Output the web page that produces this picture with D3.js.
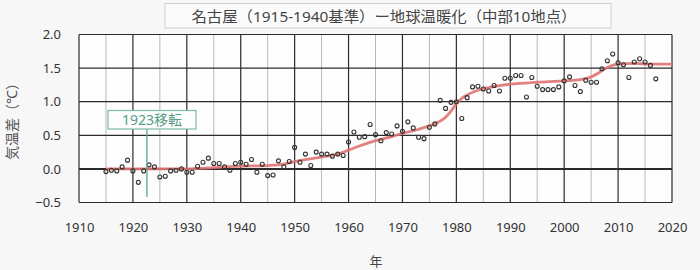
<!DOCTYPE html>
<html>
<head>
<meta charset="utf-8">
<script src="https://cdn.jsdelivr.net/npm/d3@7"></script>
<style>
  body { margin: 0; background: #f7f7f8; }
  svg { display: block; }
</style>
</head>
<body>
<svg id="chart" width="700" height="270"></svg>
<script>
// yearly anomaly (°C)
var years = d3.range(1915, 2018);
var anomalies = [
  -0.04, -0.02, -0.03, 0.03, 0.13, -0.03, -0.20, -0.03, 0.06, 0.03,   // 1915-1924
  -0.12, -0.11, -0.03, -0.02, 0.00, -0.05, -0.05, 0.04, 0.10, 0.16,   // 1925-1934
  0.08, 0.08, 0.03, -0.02, 0.08, 0.10, 0.07, 0.14, -0.05, 0.07,       // 1935-1944
  -0.10, -0.09, 0.12, 0.03, 0.11, 0.32, 0.10, 0.22, 0.05, 0.25,       // 1945-1954
  0.22, 0.22, 0.19, 0.22, 0.20, 0.40, 0.55, 0.47, 0.48, 0.66,         // 1955-1964
  0.51, 0.42, 0.54, 0.52, 0.64, 0.56, 0.70, 0.61, 0.47, 0.45,         // 1965-1974
  0.62, 0.67, 1.02, 0.90, 0.99, 1.00, 0.75, 1.06, 1.22, 1.23,         // 1975-1984
  1.19, 1.16, 1.24, 1.16, 1.35, 1.35, 1.39, 1.39, 1.07, 1.36,         // 1985-1994
  1.23, 1.18, 1.18, 1.18, 1.22, 1.31, 1.37, 1.24, 1.15, 1.32,         // 1995-2004
  1.29, 1.29, 1.49, 1.61, 1.71, 1.58, 1.55, 1.36, 1.59, 1.64,         // 2005-2014
  1.59, 1.54, 1.34                                                   // 2015-2017
];

// smoothed trend (red curve)
var trendYears  = [1915, 1920, 1925, 1930, 1935, 1940, 1945, 1948, 1950, 1953, 1956, 1958, 1960, 1962, 1965, 1968, 1970, 1973, 1975, 1977, 1978, 1979, 1980, 1981, 1982, 1984, 1986, 1990, 1995, 2000, 2003, 2005, 2007, 2008, 2010, 2013, 2016, 2020];
var trendValues = [0.00, 0.00, 0.00, 0.00, 0.02, 0.04, 0.05, 0.07, 0.11, 0.15, 0.19, 0.22, 0.28, 0.34, 0.42, 0.48, 0.53, 0.59, 0.64, 0.71, 0.77, 0.86, 0.97, 1.05, 1.10, 1.17, 1.21, 1.26, 1.29, 1.31, 1.33, 1.37, 1.46, 1.51, 1.56, 1.57, 1.56, 1.56];

var xTicks = d3.range(1910, 2021, 10);
var xMinor = d3.range(1915, 2020, 10);
var yTicks = [-0.5, 0, 0.5, 1.0, 1.5, 2.0];

var title = "名古屋（1915-1940基準）ー地球温暖化（中部10地点）";
var yTitle = "気温差（℃）";
var xTitle = "年";
var note = "1923移転";
var noteYear = 1922.6;

var svg = d3.select("#chart");
var plotL = 79, plotR = 672, plotT = 34.5, plotB = 202.5;

var x = d3.scaleLinear().domain([1910, 2020]).range([plotL, plotR]);
var y = d3.scaleLinear().domain([-0.5, 2]).range([plotB, plotT]);

var font = "'Noto Sans', 'Noto Sans CJK JP', sans-serif";

// plot background
svg.append("rect")
  .attr("x", plotL).attr("y", plotT)
  .attr("width", plotR - plotL).attr("height", plotB - plotT)
  .attr("fill", "#fdfdfd");

// minor verticals
svg.append("g").selectAll("line").data(xMinor).join("line")
  .attr("x1", function(d) { return x(d); }).attr("x2", function(d) { return x(d); })
  .attr("y1", plotT).attr("y2", plotB)
  .attr("stroke", "#b8b8b8").attr("stroke-width", 1);

// major verticals
svg.append("g").selectAll("line").data(xTicks).join("line")
  .attr("x1", function(d) { return x(d); }).attr("x2", function(d) { return x(d); })
  .attr("y1", plotT).attr("y2", plotB)
  .attr("stroke", "#2b2b2b").attr("stroke-width", 1.2);

// horizontals
svg.append("g").selectAll("line").data(yTicks).join("line")
  .attr("x1", plotL).attr("x2", plotR)
  .attr("y1", function(d) { return y(d); }).attr("y2", function(d) { return y(d); })
  .attr("stroke", "#2b2b2b")
  .attr("stroke-width", function(d) { return d === 0 ? 2 : 1.2; });

// axes labels via d3 axes, lines hidden
var xAxis = svg.append("g")
  .attr("transform", "translate(0," + plotB + ")")
  .call(d3.axisBottom(x).tickValues(xTicks).tickFormat(d3.format("d")).tickSize(0).tickPadding(20));
xAxis.select(".domain").remove();
xAxis.selectAll("text").attr("font-family", font).attr("font-size", 13).attr("fill", "#333");

var yAxis = svg.append("g")
  .attr("transform", "translate(" + plotL + ",0)")
  .call(d3.axisLeft(y).tickValues(yTicks).tickFormat(d3.format(".1f")).tickSize(0).tickPadding(18));
yAxis.select(".domain").remove();
yAxis.selectAll("text").attr("font-family", font).attr("font-size", 13).attr("fill", "#333");

// trend curve
var line = d3.line()
  .x(function(d, i) { return x(trendYears[i]); })
  .y(function(d) { return y(d); })
  .curve(d3.curveMonotoneX);

svg.append("path")
  .datum(trendValues)
  .attr("d", line)
  .attr("fill", "none")
  .attr("stroke", "#e07272")
  .attr("stroke-width", 2.8)
  .attr("opacity", 0.9);

// yearly points
svg.append("g").selectAll("circle").data(anomalies).join("circle")
  .attr("cx", function(d, i) { return x(years[i]); })
  .attr("cy", function(d) { return y(d); })
  .attr("r", 2)
  .attr("fill", "none")
  .attr("stroke", "#333")
  .attr("stroke-width", 1.1);

// relocation marker
svg.append("line")
  .attr("x1", x(noteYear)).attr("x2", x(noteYear))
  .attr("y1", 129).attr("y2", 197)
  .attr("stroke", "#5aa88c").attr("stroke-width", 1.3);

svg.append("rect")
  .attr("x", 108).attr("y", 110.5)
  .attr("width", 88).attr("height", 18.5)
  .attr("fill", "#fcfdfc")
  .attr("stroke", "#7cbca3").attr("stroke-width", 1.2);

svg.append("text")
  .attr("x", 152).attr("y", 125)
  .attr("text-anchor", "middle")
  .attr("font-family", font).attr("font-size", 14)
  .attr("fill", "#5a9c87")
  .text(note);

// title box
svg.append("rect")
  .attr("x", 165).attr("y", 3.5)
  .attr("width", 446).attr("height", 24.5)
  .attr("fill", "#fbfbfb")
  .attr("stroke", "#cfcfcf").attr("stroke-width", 1);

svg.append("text")
  .attr("x", 384).attr("y", 21.5)
  .attr("text-anchor", "middle")
  .attr("font-family", font).attr("font-size", 15)
  .attr("fill", "#444")
  .attr("textLength", 385).attr("lengthAdjust", "spacingAndGlyphs")
  .text(title);

// axis titles
svg.append("text")
  .attr("transform", "translate(17,118) rotate(-90)")
  .attr("text-anchor", "middle")
  .attr("font-family", font).attr("font-size", 14)
  .attr("fill", "#555")
  .text(yTitle);

svg.append("text")
  .attr("x", 376).attr("y", 266)
  .attr("text-anchor", "middle")
  .attr("font-family", font).attr("font-size", 13)
  .attr("fill", "#444")
  .text(xTitle);
</script>
</body>
</html>
